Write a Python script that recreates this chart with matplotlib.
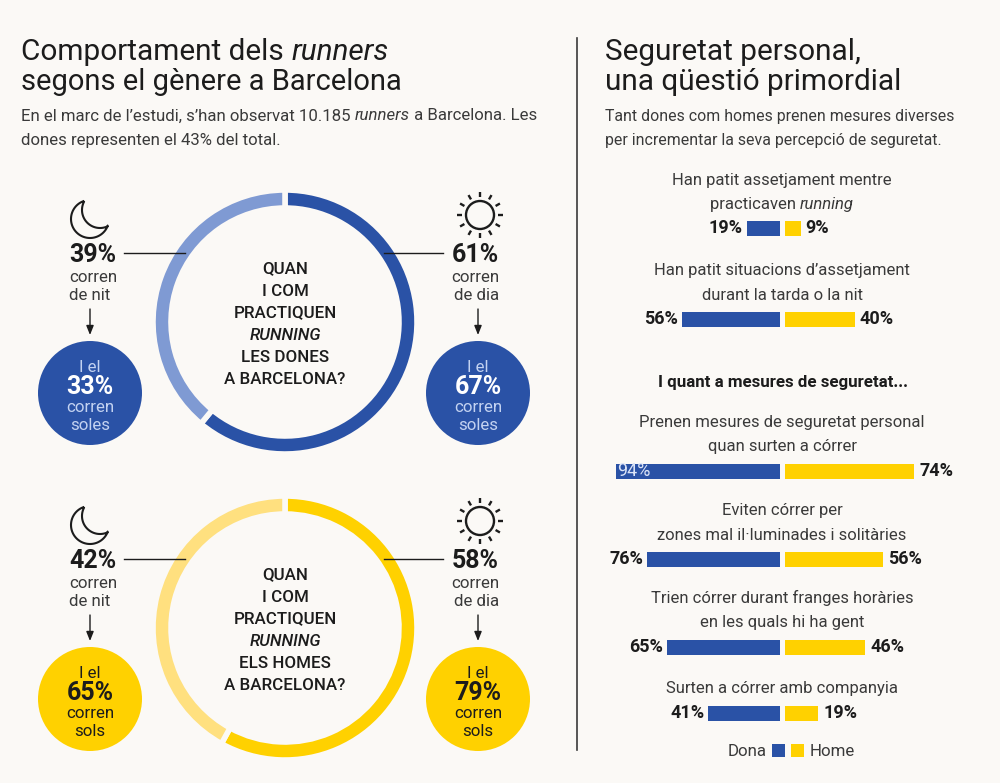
import numpy as np
import matplotlib
matplotlib.use('Agg')
import matplotlib.pyplot as plt
from matplotlib.patches import Circle, PathPatch
from matplotlib.path import Path

# donut data
groups = ['dones', 'homes']
dia = [61, 58]
nit = [39, 42]
sols_nit = [33, 65]
sols_dia = [67, 79]
paraula_sols = ['soles', 'sols']
pregunta = ['LES DONES', 'ELS HOMES']

# bars data
bar_labels = [
    ['Han patit assetjament mentre', [('practicaven ', 'normal'), ('running', 'italic')]],
    ["Han patit situacions d’assetjament", 'durant la tarda o la nit'],
    ['Prenen mesures de seguretat personal', 'quan surten a córrer'],
    ['Eviten córrer per', 'zones mal il·luminades i solitàries'],
    ['Trien córrer durant franges horàries', 'en les quals hi ha gent'],
    ['Surten a córrer amb companyia'],
]
dona = [19, 56, 94, 76, 65, 41]
home = [9, 40, 74, 56, 46, 19]
bar_y = [228, 319, 471, 559, 647, 713]
label_y = [[181, 205], [271, 295], [423, 447], [511, 535], [598, 622], [688]]

BG = '#fbf9f6'
BLUE = '#2a52a6'
LBLUE = '#7f9ad3'
YEL = '#ffd100'
LYEL = '#ffe07f'
INK = '#1c1c1c'
GREY = '#3a3a3a'

plt.rcParams['font.family'] = ['Roboto', 'DejaVu Sans']

fig = plt.figure(figsize=(10, 7.83), dpi=100, facecolor=BG)
ax = fig.add_axes([0, 0, 1, 1])
ax.set_xlim(0, 1000)
ax.set_ylim(783, 0)
ax.axis('off')
ax.set_zorder(2)
rend = fig.canvas.get_renderer()


def mixed(x, y, pieces, size, ha='left', color=INK, weight='normal'):
    # lay out pieces of normal/italic text on one line
    ts = [ax.text(0, y, s, fontsize=size, style=st, color=color, weight=weight,
                  va='center', ha='left') for s, st in pieces]
    ws = [t.get_window_extent(rend).width for t in ts]
    x0 = x - sum(ws) / 2 if ha == 'center' else x
    for t, w in zip(ts, ws):
        t.set_x(x0)
        x0 += w


def arrow(x, y0, y1):
    ax.annotate('', xy=(x, y1), xytext=(x, y0),
                arrowprops=dict(arrowstyle='-|>,head_width=0.22,head_length=0.55',
                                color=INK, lw=1, shrinkA=0, shrinkB=0))


def moon(cx, cy):
    a = np.radians(np.linspace(-107.5, -339, 50))
    outer = np.c_[cx + 19 * np.cos(a), cy + 19 * np.sin(a)]
    b = np.radians(np.linspace(63, 209, 50))
    inner = np.c_[cx + 10 + 18 * np.cos(b), cy - 9 + 18 * np.sin(b)]
    ax.add_patch(PathPatch(Path(np.r_[outer, inner], closed=False), fc='none', ec=INK, lw=1.5))


def sun(cx, cy):
    ax.add_patch(Circle((cx, cy), 14, fc='none', ec=INK, lw=1.7))
    for ang in np.arange(0, 360, 30):
        a = np.radians(ang)
        ax.plot([cx + 18 * np.cos(a), cx + 23 * np.cos(a)],
                [cy + 18 * np.sin(a), cy + 23 * np.sin(a)],
                color=INK, lw=1.7, solid_capstyle='butt')


# titles
mixed(21, 52, [('Comportament dels ', 'normal'), ('runners', 'italic')], 21.4)
ax.text(21, 82, 'segons el gènere a Barcelona', fontsize=21, color=INK, va='center')
mixed(21, 116, [('En el marc de l’estudi, s’han observat 10.185 ', 'normal'), ('runners', 'italic'),
                (' a Barcelona. Les', 'normal')], 12.1, color=GREY)
ax.text(21, 140, 'dones representen el 43% del total.', fontsize=12.1, color=GREY, va='center')

ax.text(605, 52, 'Seguretat personal,', fontsize=21.4, color=INK, va='center')
ax.text(605, 82, 'una qüestió primordial', fontsize=21.4, color=INK, va='center')
ax.text(605, 116, 'Tant dones com homes prenen mesures diverses', fontsize=11.4, color=GREY, va='center')
ax.text(605, 140, 'per incrementar la seva percepció de seguretat.', fontsize=11.4, color=GREY, va='center')

ax.plot([577, 577], [38, 750], color=GREY, lw=1.2)

# donuts and their annotations
tops = [0, 306]
for i in range(2):
    d = tops[i]
    c1, c2 = (BLUE, LBLUE) if i == 0 else (YEL, LYEL)
    inset = fig.add_axes([(285 - 132) / 1000, 1 - (322 + d + 132) / 783, 264 / 1000, 264 / 783])
    inset.set_zorder(1)
    inset.pie([dia[i], nit[i]], colors=[c1, c2], startangle=90, counterclock=False,
              radius=1, wedgeprops=dict(width=18 / 132, edgecolor=BG, linewidth=4))
    inset.set_xlim(-1, 1)
    inset.set_ylim(-1, 1)
    inset.patch.set_alpha(0)

    q = ['QUAN', 'I COM', 'PRACTIQUEN', None, pregunta[i], 'A BARCELONA?']
    for j, s in enumerate(q):
        y = 269 + d + j * 22
        if s is None:
            ax.text(285, y, 'RUNNING', fontsize=12.2, style='italic', weight='medium', color=INK,
                    ha='center', va='center')
        else:
            ax.text(285, y, s, fontsize=12.2, weight='medium', color=INK, ha='center', va='center')

    for x, pct, when, solo, icon in [(69, nit[i], 'de nit', sols_nit[i], moon),
                                     (499, dia[i], 'de dia', sols_dia[i], sun)]:
        ha = 'left' if x < 200 else 'right'
        if icon is moon:
            moon(90, 219 + d)
        else:
            sun(480, 215 + d)
        ax.text(x, 255 + d, f'{pct}%', fontsize=18, weight='bold', color=INK, ha=ha, va='center')
        ax.text(x, 277 + d, 'corren', fontsize=12.2, color=GREY, ha=ha, va='center')
        ax.text(x, 295 + d, when, fontsize=12.2, color=GREY, ha=ha, va='center')
        cx = 90 if x < 200 else 478
        arrow(cx, 309 + d, 335 + d)
        ax.add_patch(Circle((cx, 393 + d), 52, fc=c1, ec='none'))
        tc = '#c3d2f1' if i == 0 else INK
        ax.text(cx, 367 + d, 'I el', fontsize=12.2, color=tc, ha='center', va='center')
        ax.text(cx, 387 + d, f'{solo}%', fontsize=18, weight='bold',
                color='white' if i == 0 else INK, ha='center', va='center')
        ax.text(cx, 407 + d, 'corren', fontsize=12.2, color=tc, ha='center', va='center')
        ax.text(cx, 425 + d, paraula_sols[i], fontsize=12.2, color=tc, ha='center', va='center')
    ax.plot([124, 185], [253 + d, 253 + d], color=INK, lw=1)
    ax.plot([384, 443], [253 + d, 253 + d], color=INK, lw=1)

# bars
esc = 1.745
xd, xh = 780, 785
ax.barh(bar_y, [-v * esc for v in dona], height=15, left=xd, color=BLUE)
ax.barh(bar_y, [v * esc for v in home], height=15, left=xh, color=YEL)
for k in range(len(dona)):
    for line, y in zip(bar_labels[k], label_y[k]):
        if isinstance(line, str):
            ax.text(782, y, line, fontsize=12, color=GREY, ha='center', va='center')
        else:
            mixed(782, y, line, 12, ha='center', color=GREY)
    if dona[k] > 90:
        ax.text(xd - dona[k] * esc + 1, bar_y[k], f'{dona[k]}%', fontsize=13, color='#dbe4f7',
                ha='left', va='center')
    else:
        ax.text(xd - dona[k] * esc - 4, bar_y[k], f'{dona[k]}%', fontsize=13, weight='bold',
                color=INK, ha='right', va='center')
    ax.text(xh + home[k] * esc + 5, bar_y[k], f'{home[k]}%', fontsize=13, weight='bold',
            color=INK, ha='left', va='center')

ax.text(783, 382, 'I quant a mesures de seguretat...', fontsize=12.2, weight='bold', color=INK,
        ha='center', va='center')

# legend
ax.text(767, 752, 'Dona', fontsize=12.2, color=GREY, ha='right', va='center')
ax.add_patch(plt.Rectangle((772, 744), 13, 13, fc=BLUE, ec='none'))
ax.add_patch(plt.Rectangle((791, 744), 13, 13, fc=YEL, ec='none'))
ax.text(810, 752, 'Home', fontsize=12.2, color=GREY, ha='left', va='center')

fig.savefig('out.png', dpi=100, facecolor=BG)
